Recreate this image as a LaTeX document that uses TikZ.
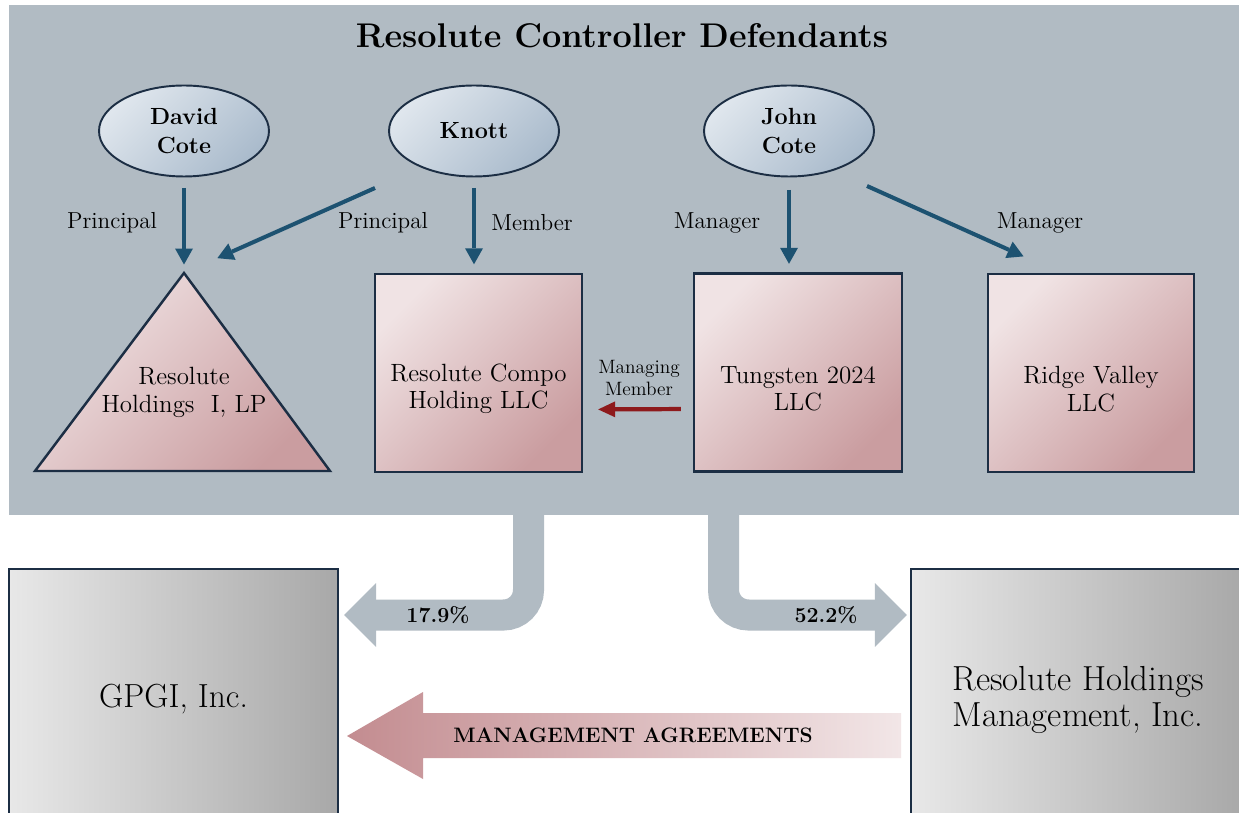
\documentclass[tikz,border=0pt]{standalone}
\usetikzlibrary{arrows.meta,shapes.geometric,calc}

\definecolor{panelgray}{HTML}{B1BBC3}
\definecolor{navyline}{HTML}{1C2E44}
\definecolor{tealarrow}{HTML}{1D5271}
\definecolor{mmred}{HTML}{8E1A1C}
\definecolor{pinklight}{HTML}{F0E3E4}
\definecolor{pinkdark}{HTML}{CA9DA0}
\definecolor{bluelight}{HTML}{DFE6ED}
\definecolor{bluedark}{HTML}{AABBCC}
\definecolor{graylight}{HTML}{E8E8E8}
\definecolor{graydark}{HTML}{A8A8A8}
\definecolor{agreedark}{HTML}{C38C90}
\definecolor{agreelight}{HTML}{F2E6E7}

\tikzset{
    person/.style={ellipse, draw=navyline, line width=1.1pt, top color=bluelight, bottom color=bluedark, shading angle=45, minimum width=3.4cm, minimum height=1.82cm, align=center, font=\bfseries\fontsize{13.3}{16}\selectfont},
    entity/.style={rectangle, draw=navyline, line width=1.4pt, top color=pinklight, bottom color=pinkdark, shading angle=45, minimum height=3.96cm},
    entitytext/.style={align=center, yshift=-0.32cm, font=\fontsize{14.2}{15.5}\selectfont},
    company/.style={rectangle, draw=navyline, line width=1.4pt, left color=graylight, right color=graydark, minimum height=5.22cm, align=center},
    role/.style={font=\fontsize{13.2}{15}\selectfont},
    ctrl/.style={draw=tealarrow, line width=2.3pt, shorten <=0.21cm, shorten >=0.17cm, -{Triangle[length=0.32cm,width=0.36cm,line width=0pt]}},
    share/.style={draw=panelgray, line width=0.62cm, rounded corners=0.5cm, -{Triangle[length=0.64cm,width=1.28cm,line width=0pt]}},
    pct/.style={font=\bfseries\fontsize{12.2}{14}\selectfont},
}

\begin{document}
\begin{tikzpicture}[x=0.02cm, y=-0.02cm]
        \useasboundingbox (0,0) rectangle (1239,813);
        \fill[white] (0,0) rectangle (1239,813);
        \fill[panelgray] (9,5) rectangle (1239,515);

        \node[font=\bfseries\fontsize{19.5}{23}\selectfont] (title) at (622,36) {Resolute Controller Defendants};

        \node[person] (dcote) at (184,131) {David\\Cote};
        \node[person] (knott) at (474,131) {Knott};
        \node[person] (jcote) at (789,131) {John\\Cote};

        \coordinate (apex) at (184,273);
        \draw[navyline, line width=1.4pt, top color=pinklight, bottom color=pinkdark, shading angle=45] (apex) -- (330,471) -- (35,471) -- cycle;
        \node[align=center, font=\fontsize{14.2}{16}\selectfont] (rhlp) at (184,392) {Resolute\\Holdings~~I, LP};

        \node[entity, minimum width=4.14cm, label={[entitytext]center:Resolute Compo\\Holding LLC}] (compo) at (478.5,373) {};
        \node[entity, minimum width=4.16cm, label={[entitytext]center:Tungsten 2024\\LLC}] (tung) at (798,372.5) {};
        \node[entity, minimum width=4.12cm, label={[entitytext]center:Ridge Valley\\LLC}] (ridge) at (1091,373) {};

        \foreach \nm/\lx/\txt in {prinA/112/Principal, prinB/383/Principal, memb/532/Member, mgrA/717/Manager, mgrB/1040/Manager} {
            \node[role] (\nm) at (\lx,223) {\txt};
        }

        \coordinate (kdiag) at (375,188);
        \coordinate (jdiag) at (867,186);
        \draw[ctrl] (dcote.south) -- (apex);
        \draw[ctrl, shorten <=0pt, shorten >=0.73cm] (kdiag) -- (apex);
        \draw[ctrl] (knott.south) -- (knott.south |- compo.north);
        \draw[ctrl, shorten <=0.25cm] (jcote.south) -- (jcote.south |- tung.north);
        \draw[ctrl, shorten <=0pt, shorten >=0.8cm] (jdiag) -- ($(ridge.north)+(-31,0)$);

        \node[align=center, font=\fontsize{11}{12}\selectfont] (mmtext) at (639,378) {Managing\\Member};
        \draw[mmred, line width=2.4pt, shorten <=0.24cm, shorten >=0.3cm, -{Triangle[length=0.34cm,width=0.32cm,line width=0pt]}] ($(tung.west)+(0,36.5)$) -- ($(compo.east)+(0,36.5)$);

        \node[company, minimum width=6.58cm, font=\fontsize{19}{22}\selectfont] (gpgi) at (173.5,699.5) {GPGI, Inc.};
        \node[company, minimum width=6.68cm, font=\fontsize{19.8}{20.5}\selectfont] (rhm) at (1078,699.5) {Resolute Holdings\\Management, Inc.};

        \coordinate (lbend) at (528.5,615);
        \coordinate (rbend) at (723.5,615);
        \draw[share, shorten >=0.1cm] (528.5,505) -- (lbend) -- (lbend -| gpgi.east);
        \draw[share, shorten >=0.06cm] (723.5,505) -- (rbend) -- (rbend -| rhm.west);
        \node[pct] (pctleft) at (438,615) {17.9\%};
        \node[pct] (pctright) at (826,615) {52.2\%};

        \shade[left color=agreedark, right color=agreelight] (347,736) -- (423,692) -- (423,713) -- (901,713) -- (901,758) -- (423,758) -- (423,779) -- cycle;
        \node[font=\bfseries\fontsize{11.9}{14}\selectfont] (mgmt) at (633,735) {MANAGEMENT AGREEMENTS};
\end{tikzpicture}
\end{document}
